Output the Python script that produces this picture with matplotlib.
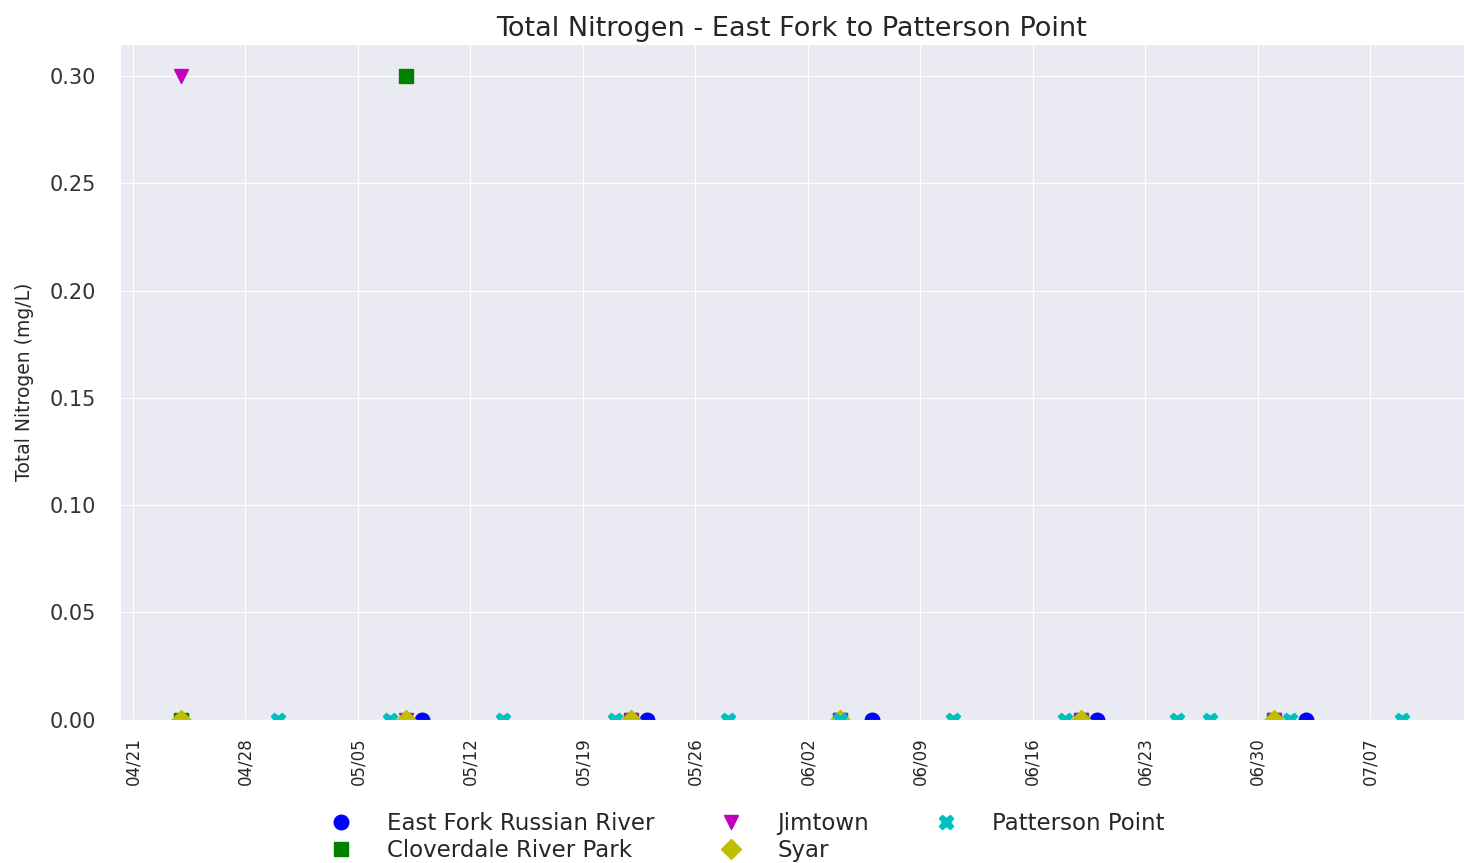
import matplotlib
matplotlib.use("Agg")
import matplotlib.pyplot as plt
import matplotlib.dates as mdates
import pandas as pd
import seaborn as sns

# sampling dates and total nitrogen values per site
ef_dates = ["2019-05-09", "2019-05-23", "2019-06-06", "2019-06-20", "2019-07-03"]
ef_vals = [0.0, 0.0, 0.0, 0.0, 0.0]

clov_dates = ["2019-04-24", "2019-05-08", "2019-05-22", "2019-06-04", "2019-06-19", "2019-07-01"]
clov_vals = [0.0, 0.30, 0.0, 0.0, 0.0, 0.0]

jim_dates = ["2019-04-24", "2019-05-08", "2019-05-22", "2019-06-04", "2019-06-19", "2019-07-01"]
jim_vals = [0.30, 0.0, 0.0, 0.0, 0.0, 0.0]

syar_dates = ["2019-04-24", "2019-05-08", "2019-05-22", "2019-06-04", "2019-06-19", "2019-07-01"]
syar_vals = [0.0, 0.0, 0.0, 0.0, 0.0, 0.0]

pat_dates = ["2019-04-30", "2019-05-07", "2019-05-14", "2019-05-21", "2019-05-28", "2019-06-04",
             "2019-06-11", "2019-06-18", "2019-06-25", "2019-06-27", "2019-07-02", "2019-07-09"]
pat_vals = [0.0] * 12

sns.set_style("darkgrid")
plt.rcParams['font.family'] = ['DejaVu Sans']

fig = plt.figure(figsize=(14.65, 8.63), dpi=100)
ax = fig.add_axes([0.082, 0.166, 0.917, 0.783])

ms = 10.5
ax.plot(pd.to_datetime(ef_dates), ef_vals, 'o', color='b', ms=ms, label='East Fork Russian River')
ax.plot(pd.to_datetime(clov_dates), clov_vals, 's', color='g', ms=ms, label='Cloverdale River Park')
ax.plot(pd.to_datetime(jim_dates), jim_vals, 'v', color='m', ms=ms, label='Jimtown')
ax.plot(pd.to_datetime(syar_dates), syar_vals, 'D', color='y', ms=ms, label='Syar')
ax.plot(pd.to_datetime(pat_dates), pat_vals, 'X', color='c', ms=ms, label='Patterson Point')

ax.set_ylim(bottom=0)
ax.xaxis.set_major_locator(mdates.WeekdayLocator(byweekday=mdates.SU))
ax.xaxis.set_major_formatter(mdates.DateFormatter('%m/%d'))
ax.tick_params(axis='x', pad=9)
ax.tick_params(axis='y', pad=14)
plt.setp(ax.get_xticklabels(), rotation=90, fontsize=12)
plt.setp(ax.get_yticklabels(), fontsize=15, color='#333333')
ax.yaxis.set_major_formatter(matplotlib.ticker.FormatStrFormatter('%.2f'))

ax.set_title('Total Nitrogen - East Fork to Patterson Point', fontsize=19.5, pad=6)
ax.set_ylabel('Total Nitrogen (mg/L)', fontsize=13.5, labelpad=11)

fig.legend(loc='lower center', bbox_to_anchor=(0.506, -0.023), ncol=3, frameon=False,
           fontsize=16.5, handletextpad=1.0, columnspacing=2.35, labelspacing=0.17)

fig.savefig('out.png', dpi=100)
